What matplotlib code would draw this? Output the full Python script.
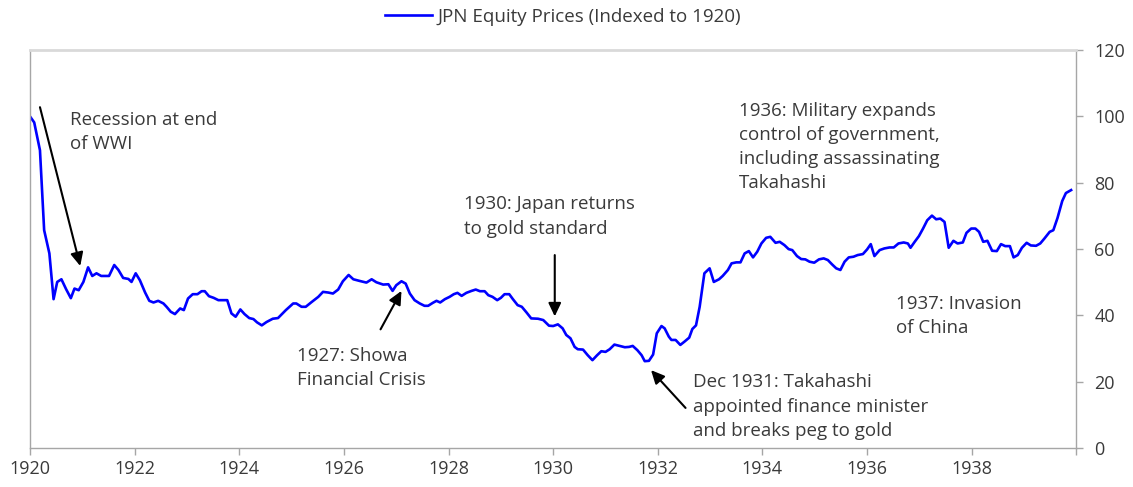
import matplotlib
matplotlib.use("Agg")
import matplotlib.pyplot as plt

# values (year as decimal, index 1920 = 100)
years = [1920.00, 1920.08, 1920.19, 1920.27, 1920.37, 1920.45, 1920.52, 1920.60, 1920.69, 1920.78,
         1920.85, 1920.93, 1921.02, 1921.11, 1921.19, 1921.27, 1921.36, 1921.51, 1921.61, 1921.69,
         1921.78, 1921.88, 1921.94, 1922.02, 1922.10, 1922.20, 1922.28, 1922.36, 1922.45, 1922.55,
         1922.61, 1922.69, 1922.77, 1922.87, 1922.94, 1923.02, 1923.11, 1923.20, 1923.28, 1923.34,
         1923.42, 1923.51, 1923.60, 1923.77, 1923.85, 1923.93, 1924.02, 1924.10, 1924.19, 1924.27,
         1924.34, 1924.43, 1924.52, 1924.64, 1924.74, 1924.89, 1925.03, 1925.09, 1925.19, 1925.27,
         1925.38, 1925.51, 1925.60, 1925.70, 1925.79, 1925.89, 1925.98, 1926.09, 1926.18, 1926.30,
         1926.43, 1926.53, 1926.62, 1926.75, 1926.85, 1926.93, 1927.00, 1927.10, 1927.18, 1927.26,
         1927.35, 1927.45, 1927.54, 1927.61, 1927.70, 1927.77, 1927.84, 1927.93, 1928.02, 1928.10,
         1928.17, 1928.25, 1928.34, 1928.44, 1928.52, 1928.60, 1928.69, 1928.76, 1928.84, 1928.93,
         1929.00, 1929.07, 1929.16, 1929.23, 1929.32, 1929.40, 1929.49, 1929.58, 1929.71, 1929.81,
         1929.92, 1930.00, 1930.09, 1930.18, 1930.25, 1930.33, 1930.41, 1930.47, 1930.57, 1930.66,
         1930.75, 1930.84, 1930.92, 1931.00, 1931.08, 1931.17, 1931.27, 1931.37, 1931.45, 1931.52,
         1931.61, 1931.69, 1931.75, 1931.83, 1931.91, 1931.98, 1932.07, 1932.13, 1932.21, 1932.26,
         1932.34, 1932.43, 1932.51, 1932.60, 1932.66, 1932.73, 1932.80, 1932.89, 1932.99, 1933.07,
         1933.17, 1933.24, 1933.34, 1933.41, 1933.50, 1933.58, 1933.66, 1933.74, 1933.82, 1933.90,
         1933.98, 1934.07, 1934.15, 1934.25, 1934.33, 1934.42, 1934.50, 1934.57, 1934.66, 1934.74,
         1934.82, 1934.90, 1934.99, 1935.08, 1935.17, 1935.25, 1935.33, 1935.41, 1935.49, 1935.57,
         1935.65, 1935.74, 1935.82, 1935.92, 1936.00, 1936.07, 1936.14, 1936.24, 1936.33, 1936.43,
         1936.51, 1936.60, 1936.70, 1936.78, 1936.83, 1936.91, 1936.99, 1937.07, 1937.15, 1937.24,
         1937.32, 1937.40, 1937.48, 1937.56, 1937.65, 1937.73, 1937.83, 1937.90, 1937.99, 1938.07,
         1938.14, 1938.22, 1938.30, 1938.39, 1938.48, 1938.56, 1938.64, 1938.73, 1938.80, 1938.88,
         1938.96, 1939.05, 1939.13, 1939.23, 1939.31, 1939.39, 1939.49, 1939.56, 1939.64, 1939.73,
         1939.80, 1939.90]
prices = [100.0, 98.2, 89.8, 65.7, 58.7, 44.9, 50.1, 50.9, 47.9, 45.2,
          48.1, 47.6, 50.1, 54.5, 51.9, 52.7, 51.9, 51.9, 55.2, 53.7,
          51.3, 51.0, 50.1, 52.7, 50.6, 46.9, 44.4, 43.9, 44.4, 43.6,
          42.6, 41.1, 40.4, 42.1, 41.6, 45.1, 46.4, 46.4, 47.3, 47.3,
          45.8, 45.3, 44.6, 44.6, 40.6, 39.6, 41.8, 40.4, 39.2, 38.9,
          37.9, 37.0, 38.0, 39.0, 39.2, 41.6, 43.6, 43.6, 42.6, 42.6,
          44.0, 45.6, 47.1, 46.9, 46.6, 47.8, 50.3, 52.2, 50.9, 50.4,
          49.9, 50.9, 50.0, 49.3, 49.4, 47.4, 49.1, 50.3, 49.6, 46.6,
          44.6, 43.6, 42.9, 42.9, 43.8, 44.4, 43.9, 44.9, 45.6, 46.4,
          46.8, 45.9, 46.8, 47.4, 47.8, 47.3, 47.3, 46.1, 45.6, 44.6,
          45.3, 46.4, 46.4, 44.9, 43.1, 42.6, 40.9, 39.1, 39.0, 38.6,
          36.9, 36.8, 37.3, 36.1, 34.1, 33.1, 30.5, 29.8, 29.7, 28.0,
          26.5, 28.0, 29.2, 29.0, 29.8, 31.2, 30.8, 30.4, 30.5, 30.8,
          29.5, 28.0, 26.2, 26.3, 28.2, 34.6, 36.8, 36.1, 33.6, 32.6,
          32.6, 31.1, 32.1, 33.3, 35.9, 37.0, 42.6, 52.7, 54.2, 50.1,
          50.9, 51.9, 53.7, 55.7, 56.0, 56.0, 58.7, 59.4, 57.5, 59.2,
          61.7, 63.4, 63.7, 61.9, 62.2, 61.2, 60.0, 59.7, 57.9, 57.0,
          56.9, 56.2, 55.9, 56.9, 57.2, 56.7, 55.4, 54.2, 53.7, 56.2,
          57.5, 57.7, 58.2, 58.5, 59.9, 61.5, 57.9, 59.7, 60.2, 60.5,
          60.5, 61.7, 62.0, 61.7, 60.4, 62.2, 63.9, 66.2, 68.7, 70.1,
          69.0, 69.2, 68.2, 60.4, 62.5, 61.7, 62.0, 64.9, 66.2, 66.2,
          65.2, 62.2, 62.5, 59.5, 59.4, 61.5, 60.9, 60.9, 57.5, 58.2,
          60.4, 61.9, 61.1, 61.0, 61.7, 63.2, 65.2, 65.7, 69.4, 74.5,
          76.9, 77.8]

x_ticks = [1920, 1922, 1924, 1926, 1928, 1930, 1932, 1934, 1936, 1938, 1940]
x_labels = ["1920", "1922", "1924", "1926", "1928", "1930", "1932", "1934", "1936", "1938", ""]
y_ticks = [0, 20, 40, 60, 80, 100, 120]

# notes: text, text position, arrow tail, arrow head (None = no arrow)
note_texts = ["Recession at end\nof WWI",
              "1927: Showa\nFinancial Crisis",
              "1930: Japan returns\nto gold standard",
              "Dec 1931: Takahashi\nappointed finance minister\nand breaks peg to gold",
              "1936: Military expands\ncontrol of government,\nincluding assassinating\nTakahashi",
              "1937: Invasion\nof China"]
note_pos = [(1920.76, 101.8), (1925.10, 30.6), (1928.30, 76.2),
            (1932.67, 22.5), (1933.55, 104.5), (1936.55, 46.2)]
arrow_tail = [(1920.19, 102.8), (1926.70, 35.8), (1930.03, 58.2),
              (1932.53, 12.1), None, None]
arrow_head = [(1920.96, 54.9), (1927.10, 47.4), (1930.03, 39.7),
              (1931.87, 23.5), None, None]

plt.rcParams['font.family'] = ['Open Sans', 'DejaVu Sans']
txt_col = '#3a3a3a'
grey = '#A6A6A6'

fig = plt.figure(figsize=(11.33, 4.87), dpi=100)
ax = fig.add_axes([0.0265, 0.080, 0.9235, 0.817])

ax.plot(years, prices, color='#0000FF', lw=1.9, label='JPN Equity Prices (Indexed to 1920)')

ax.set_xlim(1920, 1940)
ax.set_ylim(0, 120)
ax.set_xticks(x_ticks)
ax.set_xticklabels(x_labels)
ax.set_yticks(y_ticks)
ax.yaxis.tick_right()
ax.tick_params(axis='both', colors=grey, labelcolor=txt_col, labelsize=13, length=5, width=1)
ax.tick_params(axis='y', pad=8)
for s in ax.spines.values():
    s.set_color(grey)
    s.set_linewidth(1)
ax.spines['top'].set_color('#D9D9D9')
ax.spines['top'].set_linewidth(2)

for i in range(len(note_texts)):
    ax.text(note_pos[i][0], note_pos[i][1], note_texts[i], fontsize=13.5, color=txt_col,
            ha='left', va='top', linespacing=1.45)
    if arrow_tail[i] is not None:
        ax.annotate('', xy=arrow_head[i], xytext=arrow_tail[i],
                    arrowprops=dict(arrowstyle='-|>,head_length=0.8,head_width=0.38',
                                    color='black', lw=1.5, shrinkA=0, shrinkB=0))

fig.legend(loc='center', bbox_to_anchor=(0.497, 0.965), frameon=False, fontsize=13.5,
           handlelength=2.5, handletextpad=0.3, labelcolor=txt_col)

fig.savefig('out.png', dpi=100)
